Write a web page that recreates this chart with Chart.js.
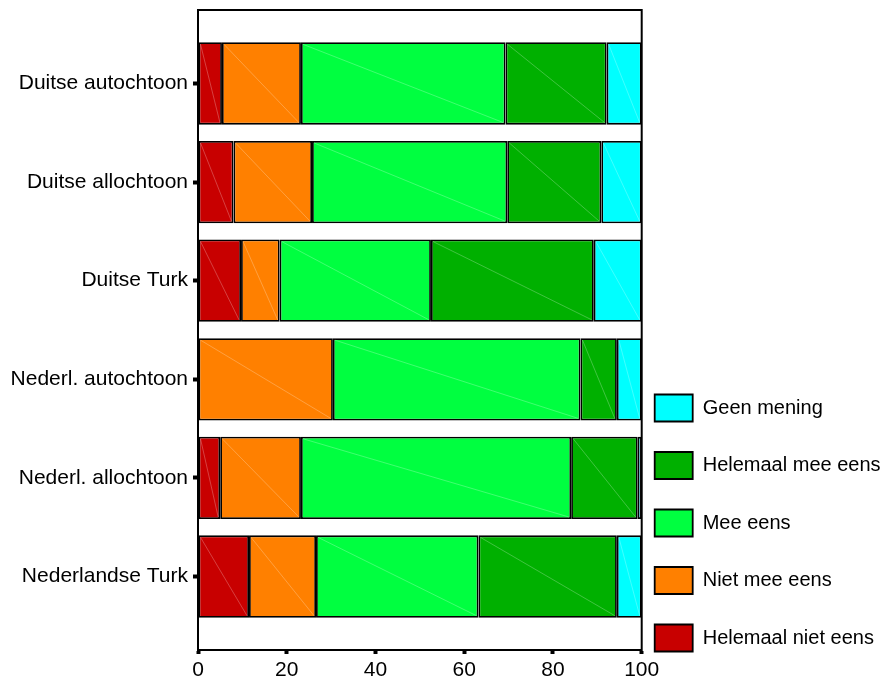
<!DOCTYPE html>
<html>
<head>
<meta charset="utf-8">
<script src="https://cdn.jsdelivr.net/npm/chart.js@4.4.1/dist/chart.umd.min.js"></script>
<style>
    html, body { margin: 0; padding: 0; background: #fff; }
    .wrap { width: 887px; height: 684px; position: relative; }
</style>
</head>
<body>
<div class="wrap"><canvas class="chart"></canvas></div>
<script>
const categories = ["Duitse autochtoon", "Duitse allochtoon", "Duitse Turk", "Nederl. autochtoon", "Nederl. allochtoon", "Nederlandse Turk"];

const helemaalNietEens = [5.4, 8.0, 9.7, 0, 5.0, 11.5];
const nietMeeEens = [17.8, 17.7, 8.7, 30.4, 18.2, 15.1];
const meeEens = [46.1, 44.0, 34.1, 55.8, 60.9, 36.6];
const helemaalMeeEens = [22.8, 21.2, 36.7, 8.2, 15.0, 31.2];
const geenMening = [7.9, 9.1, 10.8, 5.6, 0.9, 5.6];

const seriesNames = ["Helemaal niet eens", "Niet mee eens", "Mee eens", "Helemaal mee eens", "Geen mening"];
const seriesValues = [helemaalNietEens, nietMeeEens, meeEens, helemaalMeeEens, geenMening];
const seriesColors = ["#c80000", "#ff8000", "#00ff40", "#00b000", "#00ffff"];

Chart.defaults.font.family = '"Liberation Sans", Arial, sans-serif';
Chart.defaults.color = "#000";

const ctx = document.querySelector(".chart").getContext("2d");

// frame round the plot area and the faint diagonal in each bar
const framePlugin = {
    id: "frame",
    afterDatasetsDraw(chart) {
        const c = chart.ctx;
        c.save();
        c.strokeStyle = "rgba(255,255,255,0.25)";
        c.lineWidth = 1;
        chart.data.datasets.forEach((ds, i) => {
            chart.getDatasetMeta(i).data.forEach(bar => {
                const { x, y, base, height } = bar.getProps(["x", "y", "base", "height"], true);
                if (Math.abs(x - base) < 2) return;
                c.beginPath();
                c.moveTo(base + 2, y - height / 2 + 2);
                c.lineTo(x - 2, y + height / 2 - 2);
                c.stroke();
            });
        });
        c.restore();
    },
    afterDraw(chart) {
        const { left, top, right, bottom } = chart.chartArea;
        const c = chart.ctx;
        c.save();
        c.strokeStyle = "#000";
        c.lineWidth = 2;
        c.strokeRect(left, top, right - left, bottom - top);
        c.restore();
    }
};

new Chart(ctx, {
    type: "bar",
    data: {
        datasets: seriesNames.map((name, i) => ({
            label: name,
            data: seriesValues[i].map((v, j) => ({ x: v, y: j })),
            backgroundColor: seriesColors[i],
            borderColor: "#000",
            borderWidth: 1.8,
            borderSkipped: false,
            categoryPercentage: 0.835,
            barPercentage: 1
        }))
    },
    options: {
        indexAxis: "y",
        responsive: true,
        maintainAspectRatio: false,
        animation: false,
        layout: { padding: { top: 10, bottom: 2, left: 0, right: 0 } },
        scales: {
            x: {
                type: "linear",
                stacked: true,
                min: 0,
                max: 100,
                ticks: { stepSize: 20, padding: 4, font: { size: 21 } },
                grid: { drawOnChartArea: false, tickLength: 4, tickWidth: 4, tickColor: "#000" },
                border: { color: "#000", width: 2 },
                afterFit: scale => { scale.height = 32; }
            },
            y: {
                type: "linear",
                stacked: true,
                reverse: true,
                offset: false,
                min: -0.745,
                max: 5.745,
                ticks: {
                    stepSize: 1,
                    includeBounds: false,
                    padding: 5,
                    font: { size: 21 },
                    callback: v => categories[v] ?? ""
                },
                grid: { offset: false, drawOnChartArea: false, tickLength: 5, tickWidth: 4, tickColor: "#000" },
                border: { color: "#000", width: 2 },
                afterFit: scale => {
                    scale.width = 198;
                    scale.paddingTop = 0;
                    scale.paddingBottom = 0;
                }
            }
        },
        plugins: {
            tooltip: { enabled: false },
            legend: {
                position: "right",
                align: "end",
                maxWidth: 245.3,
                labels: {
                    boxWidth: 38,
                    boxHeight: 27,
                    padding: 13,
                    font: { size: 20, lineHeight: 2.225 },
                    generateLabels: chart => {
                        const items = Chart.defaults.plugins.legend.labels.generateLabels(chart);
                        return items.reverse().map(item => ({ ...item, text: [item.text] }));
                    }
                }
            }
        }
    },
    plugins: [framePlugin]
});
</script>
</body>
</html>
